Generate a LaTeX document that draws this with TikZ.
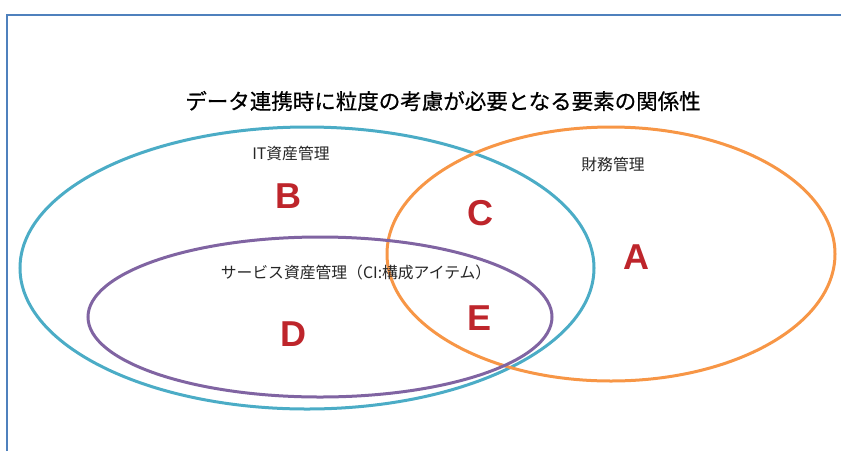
\documentclass[tikz,border=0pt]{standalone}
\usepackage{fontspec}
\setmainfont{Liberation Sans}
\newfontfamily\jp{Noto Sans CJK JP}
\newfontfamily\jptitle[FakeBold=0.6]{Noto Sans CJK JP}
\newfontfamily\letterfont{Liberation Sans}
\definecolor{frameblue}{HTML}{4F81BD}
\definecolor{itcyan}{HTML}{4BACC6}
\definecolor{finorange}{HTML}{F79646}
\definecolor{svcpurple}{HTML}{8064A2}
\definecolor{letterred}{HTML}{BE252B}
\tikzset{
  setring/.style={line width=3pt},
  biglabel/.style={font=\letterfont\bfseries\fontsize{36}{36}\selectfont, text=letterred, inner sep=0pt},
  txt/.style={font=\jp\fontsize{15.8}{15.8}\selectfont, inner sep=0pt, text=black!85}
}
\begin{document}
\begin{tikzpicture}[x=1pt,y=-1pt]
\useasboundingbox (0,0) rectangle (841,451);
\draw[frameblue, line width=2pt] (7,451) -- (7,15) -- (841,15);
\draw[itcyan, setring] (307,268) ellipse [x radius=287, y radius=141];
\draw[finorange, setring] (611,254) ellipse [x radius=224, y radius=127];
\draw[svcpurple, setring] (320,317) ellipse [x radius=232, y radius=80];
\node[font=\jptitle\fontsize{21.5}{21.5}\selectfont, inner sep=0pt] (title) at (443,101) {データ連携時に粒度の考慮が必要となる要素の関係性};
\node[txt] (it) at (291,153) {IT資産管理};
\node[txt] (fin) at (613,164) {財務管理};
\node[txt] (svc) at (356,272) {サービス資産管理（CI:構成アイテム）};
\node[biglabel] (A) at (636,257) {A};
\node[biglabel] (B) at (288,196) {B};
\node[biglabel] (C) at (480,213) {C};
\node[biglabel] (D) at (293,334) {D};
\node[biglabel] (E) at (480,318) {E};
\end{tikzpicture}
\end{document}
